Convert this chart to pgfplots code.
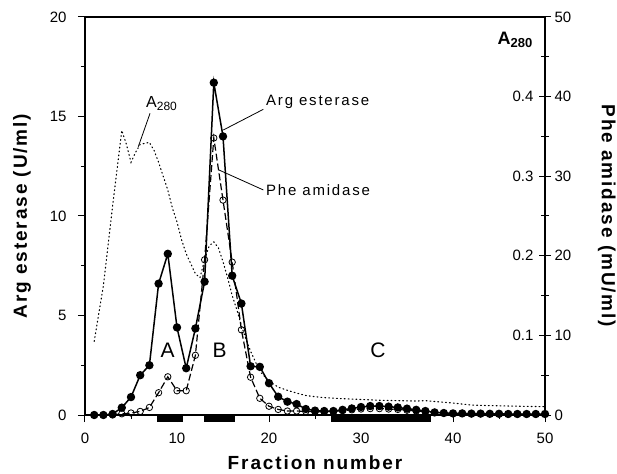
\documentclass[border=0pt]{standalone}
\usepackage{fontspec}
\setmainfont{Liberation Sans}
\newfontfamily\labfont[LetterSpace=10]{Liberation Sans}
\newfontfamily\annfont[LetterSpace=12]{Liberation Sans}
\usepackage{pgfplots}
\pgfplotsset{compat=1.18}

\pgfplotstableread{
f v
1 0
2 0
3 0.05
4 0.37
5 0.9
6 2.0
7 2.5
8 6.6
9 8.1
10 4.4
11 2.35
12 4.35
13 6.7
14 16.7
15 14.0
16 7.0
17 5.6
18 2.45
19 2.42
20 1.6
21 0.92
22 0.67
23 0.55
24 0.3
25 0.22
26 0.2
27 0.2
28 0.26
29 0.33
30 0.4
31 0.45
32 0.45
33 0.42
34 0.38
35 0.32
36 0.26
37 0.2
38 0.13
39 0.1
40 0.08
41 0.08
42 0.07
43 0.07
44 0.06
45 0.06
46 0.05
47 0.05
48 0.05
49 0.05
50 0.05
}\argtab

\pgfplotstableread{
f v
3 0
4 0.15
5 0.25
6 0.45
7 0.95
8 2.8
9 4.8
10 3.05
11 3.05
12 7.5
13 19.5
14 34.8
15 27.0
16 19.2
17 10.7
18 4.75
19 2.1
20 1.1
21 0.7
22 0.5
23 0.5
24 0.45
25 0.4
26 0.4
27 0.45
28 0.55
29 0.65
30 0.75
31 0.8
32 0.8
33 0.75
34 0.7
35 0.6
36 0.5
37 0.4
}\phetab

\pgfplotstableread{
f a
1 0.0925
2 0.1625
3 0.2625
4 0.3575
4.5 0.34
5 0.3175
5.5 0.33
6 0.34
7 0.3425
7.5 0.3325
8 0.3175
8.5 0.30
9 0.2825
9.5 0.26
10 0.2425
10.5 0.22
11 0.2025
11.5 0.19
12 0.1775
12.5 0.1725
13 0.195
13.5 0.2125
14 0.2175
14.5 0.21
15 0.1925
15.5 0.1725
16 0.15
16.5 0.1325
17 0.1125
17.5 0.095
18 0.08
18.5 0.0675
19 0.055
20 0.0425
21 0.035
22 0.031
23 0.0275
24 0.0245
25 0.023
26 0.0218
28 0.0205
30 0.0195
32 0.0185
34 0.018
36 0.0175
37 0.018
38 0.017
40 0.015
42 0.0125
44 0.0118
46 0.0113
48 0.0108
50 0.0105
}\atab

\begin{document}
\begin{tikzpicture}
\pgfplotsset{
  every axis/.append style={
    width=460pt, height=398pt, scale only axis,
    xmin=0, xmax=50,
    /pgf/number format/assume math mode=true,
    tick label style={font=\fontsize{15}{15}\selectfont},
    axis line style={line width=1.2pt},
    tick style={line width=1pt, black},
  }
}
% A280 axis (inner labels on the right)
\begin{axis}[
  ymin=0, ymax=0.5,
  axis x line=none,
  axis y line*=right,
  axis line style={draw=none},
  ytick={0.1,0.2,0.3,0.4},
  major tick length=0pt,
  yticklabel style={anchor=east, xshift=-8pt,
    /pgf/number format/fixed, /pgf/number format/precision=1,
    /pgf/number format/fixed zerofill},
]
\addplot[black, line width=1.1pt, dash pattern=on 0.9pt off 3pt, line cap=round] table[x=f, y=a] {\atab};
\end{axis}
% Phe amidase axis (right)
\begin{axis}[
  ymin=0, ymax=50,
  axis x line=none,
  axis y line*=right,
  ytick={0,10,...,50},
  minor ytick={5,15,...,45},
  tick align=center,
  major tick length=12pt,
  minor tick length=8pt,
  clip=false,
]
\addplot[black, line width=1.2pt, dash pattern=on 7pt off 3pt, mark=o, mark size=3.2pt,
  mark options={solid, line width=0.8pt, fill=none}] table[x=f, y=v] {\phetab};
\end{axis}
% Arg esterase axis (left, main)
\begin{axis}[
  name=main,
  ymin=0, ymax=20,
  xtick={0,10,...,50},
  minor xtick={5,15,...,45},
  ytick={0,5,...,20},
  minor ytick={2.5,7.5,12.5,17.5},
  tick pos=left,
  tick align=outside,
  major tick length=7pt,
  minor tick length=4pt,
  xticklabel style={yshift=-7pt},
  yticklabel style={xshift=-8pt},
  clip=false,
]
\addplot[black, line width=1.5pt, mark=*, mark size=3.4pt] table[x=f, y=v] {\argtab};
% fraction bars below the axis
\fill[black] (axis cs:7.86,0) rectangle (axis cs:10.62,-0.33);
\fill[black] (axis cs:12.9,0) rectangle (axis cs:16.35,-0.33);
\fill[black] (axis cs:26.7,0) rectangle (axis cs:37.6,-0.33);
% peak letters
\node[font=\fontsize{21}{21}\selectfont] at (axis cs:8.97,3.24) {A};
\node[font=\fontsize{21}{21}\selectfont] at (axis cs:14.62,3.27) {B};
\node[font=\fontsize{21}{21}\selectfont] at (axis cs:31.85,3.24) {C};
% annotations
\draw[line width=0.8pt] (axis cs:19.38,15.36) -- (axis cs:15.03,14.32);
\node[anchor=west, inner sep=0pt, font=\annfont\fontsize{15}{15}\selectfont] at (axis cs:19.67,15.74) {Arg esterase};
\draw[line width=0.8pt] (axis cs:19.38,11.31) -- (axis cs:14.57,12.31);
\node[anchor=west, inner sep=0pt, font=\annfont\fontsize{15}{15}\selectfont] at (axis cs:19.67,11.3) {Phe amidase};
\draw[line width=0.8pt] (axis cs:7.07,15.16) -- (axis cs:5.79,13.48);
\node[inner sep=0pt, font=\fontsize{16}{16}\selectfont] at (axis cs:8.32,15.63) {A\raisebox{-0.35ex}{\fontsize{12}{12}\selectfont 280}};
\node[inner sep=0pt, font=\bfseries\fontsize{18}{18}\selectfont] at (axis cs:46.74,18.84) {A\raisebox{-0.35ex}{\fontsize{13}{13}\selectfont 280}};
% axis titles
\node[font=\labfont\bfseries\fontsize{19}{19}\selectfont] at ([yshift=-48pt]rel axis cs:0.5,0) {Fraction number};
\node[rotate=90, font=\labfont\bfseries\fontsize{19}{19}\selectfont] at ([xshift=-63pt]rel axis cs:0,0.5) {Arg esterase (U/ml)};
\node[rotate=-90, font=\labfont\bfseries\fontsize{19}{19}\selectfont] at ([xshift=61.7pt]rel axis cs:1,0.5) {Phe amidase (mU/ml)};
\coordinate (ll) at (rel axis cs:0,0);
\coordinate (ur) at (rel axis cs:1,1);
\end{axis}
\pgfresetboundingbox
\path ([shift={(-85pt,-58pt)}]ll) rectangle ([shift={(72pt,17pt)}]ur);
\end{tikzpicture}
\end{document}
